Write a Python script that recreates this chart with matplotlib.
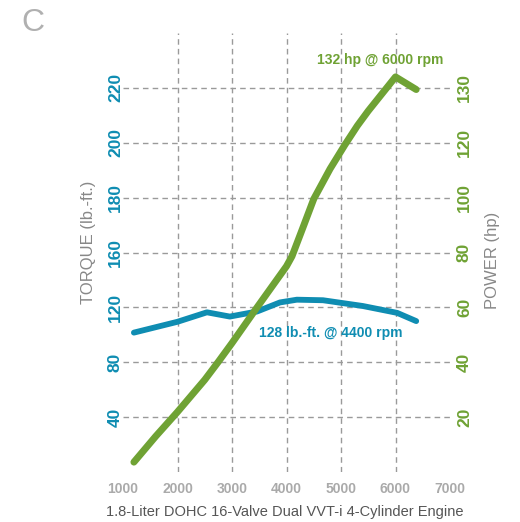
import numpy as np
import matplotlib
matplotlib.use('Agg')
import matplotlib.pyplot as plt

plt.rcParams['font.family'] = ['Liberation Sans', 'DejaVu Sans']

# engine curves
rpm_torque = [1200, 2000, 2540, 2960, 3460, 3880, 4190, 4670, 5400, 6030, 6380]
torque = [101.6, 109.5, 116.4, 113.3, 117.0, 123.6, 125.6, 125.2, 121.0, 116.0, 110.0]

rpm_power = [1200, 1600, 2000, 2500, 2743, 3000, 3460, 4000, 4100, 4300, 4500, 4800, 5070, 5300, 5500, 6000, 6380]
power = [3.6, 13.0, 21.9, 33.6, 40.0, 47.0, 60.0, 75.0, 78.6, 89.0, 99.5, 110.5, 119.2, 123.1, 125.8, 132.0, 129.7]

rpm_ticks = [1000, 2000, 3000, 4000, 5000, 6000, 7000]
torque_ticks = [40, 80, 120, 160, 180, 200, 220]
power_ticks = [20, 40, 60, 80, 100, 120, 130]

# the chart uses uneven steps between gridlines
torque_steps = [0, 40, 80, 120, 160, 180, 200, 220, 240]
power_steps = [0, 20, 40, 60, 80, 100, 120, 130, 140]

BLUE = '#0f8db2'
GREEN = '#6fa234'
GRID = '#9a9a9a'


def step_scale(steps):
    vals = np.array([steps[0] - 100 * (steps[1] - steps[0])] + steps +
                    [steps[-1] + 100 * (steps[-1] - steps[-2])], float)
    idx = np.array([-100] + list(range(len(steps))) + [len(steps) + 99], float)

    def fwd(v):
        return np.interp(v, vals, idx)

    def inv(p):
        return np.interp(p, idx, vals)
    return fwd, inv


fig = plt.figure(figsize=(5.2, 5.22), dpi=100)
ax = fig.add_axes([123 / 520, 50 / 522, 327 / 520, 439 / 522])
ax2 = ax.twinx()

ax.set_yscale('function', functions=step_scale(torque_steps))
ax2.set_yscale('function', functions=step_scale(power_steps))
ax.set_xlim(1000, 7000)
ax.set_ylim(0, 240)
ax2.set_ylim(0, 140)

ax.set_yticks(torque_ticks)
ax2.set_yticks(power_ticks)
ax.set_xticks(rpm_ticks)
ax.minorticks_off()
ax2.minorticks_off()

ax.grid(axis='y', color=GRID, linestyle=(0, (4, 3)), linewidth=1)
for r in rpm_ticks[1:-1]:
    ax.axvline(r, color=GRID, linestyle=(0, (4, 3)), linewidth=1, zorder=0.5)

ax.plot(rpm_torque, torque, color=BLUE, lw=4.2, solid_capstyle='round',
        solid_joinstyle='round', clip_on=False)
ax2.plot(rpm_power, power, color=GREEN, lw=5, solid_capstyle='round',
         solid_joinstyle='round', clip_on=False)

for a in (ax, ax2):
    for s in a.spines.values():
        s.set_visible(False)

ax.tick_params(axis='y', length=0, pad=0, labelrotation=90, labelsize=12.5,
               labelcolor=BLUE)
ax2.tick_params(axis='y', length=0, pad=5, labelrotation=90, labelsize=12.5,
                labelcolor=GREEN)
ax.tick_params(axis='x', length=0, pad=7.5, labelsize=10, labelcolor='#aaaaaa')
for lab in ax.get_yticklabels() + ax2.get_yticklabels() + ax.get_xticklabels():
    lab.set_fontweight('bold')
for lab in ax.get_yticklabels() + ax2.get_yticklabels():
    lab.set_va('center')

ax2.text(5720, 135, '132 hp @ 6000 rpm', color=GREEN, fontsize=10,
         fontweight='bold', ha='center', va='center')
ax.text(4820, 101.5, '128 lb.-ft. @ 4400 rpm', color=BLUE, fontsize=10,
        fontweight='bold', ha='center', va='center')

fig.text(88 / 520, 1 - 242 / 522, 'TORQUE (lb.-ft.)', rotation=90, color='#888888',
         fontsize=12, ha='center', va='center')
fig.text(492 / 520, 1 - 260 / 522, 'POWER (hp)', rotation=90, color='#888888',
         fontsize=12, ha='center', va='center')
fig.text(33 / 520, 1 - 23 / 522, 'C', color='#b0b0b0', fontsize=23,
         ha='center', va='center')
fig.text(285 / 520, 1 - 512 / 522, '1.8-Liter DOHC 16-Valve Dual VVT-i 4-Cylinder Engine',
         color='#555555', fontsize=10.5, ha='center', va='center')

fig.savefig('out.png', dpi=100)
